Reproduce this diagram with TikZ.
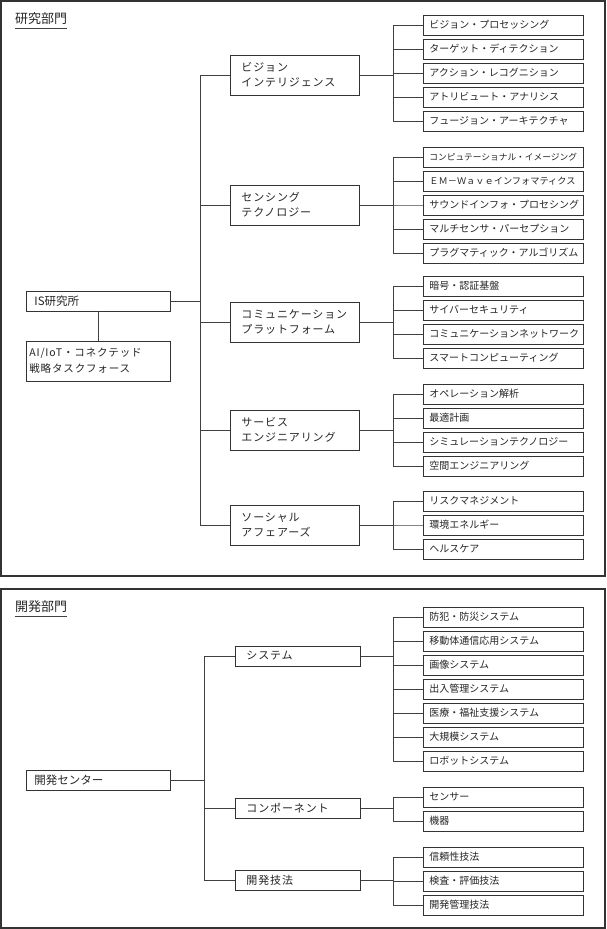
\documentclass[tikz,border=0pt]{standalone}
\usepackage{fontspec}
\setmainfont{Noto Sans CJK JP}
\newfontfamily\unitfont[LetterSpace=8]{Noto Sans CJK JP}
\usetikzlibrary{positioning, shadows}

\tikzset{
  frame/.style={draw=black!80, line width=1.2pt},
  link/.style={draw=black!75, line width=0.9pt},
  boxed/.style={draw=black!80, line width=0.8pt, fill=white, anchor=west,
    align=left, inner ysep=0pt, text=black!85,
    drop shadow={shadow xshift=0.8pt, shadow yshift=-0.8pt, fill=black!75, opacity=1}},
  leaf/.style={boxed, text width=148pt, inner xsep=6pt, minimum height=20pt,
    font=\fontsize{10}{12}\selectfont},
  unit/.style={boxed, text width=107pt, inner xsep=11pt, minimum height=40pt,
    font=\unitfont\fontsize{11}{15}\selectfont},
  base/.style={boxed, text width=128pt, inner xsep=8pt, minimum height=20pt,
    font=\fontsize{11.5}{16}\selectfont},
  heading/.style={anchor=west, inner sep=0pt, text=black!85,
    font=\fontsize{13}{15}\selectfont},
}

\begin{document}
\begin{tikzpicture}[x=1pt, y=-1pt]
\useasboundingbox (0,0) rectangle (607,929);
\draw[frame] (1,1) rectangle (605,576);
\draw[frame] (1,589) rectangle (605,928);

% research division
\node[heading] (rtitle) at (15,19) {研究部門};
\draw[link] ([yshift=-3pt]rtitle.south west) -- ([yshift=-3pt]rtitle.south east);

\node[base] (is) at (26,301) {IS研究所};
\node[base, text width=138pt, inner xsep=3pt, minimum height=40pt,
  font=\unitfont\fontsize{10.5}{16}\selectfont] (ai) at (26,361)
  {AI/IoT・コネクテッド\\戦略タスクフォース};
\draw[link] (is) -- (ai);

\node[unit] (vis) at (230,75) {ビジョン\\インテリジェンス};
\node[unit] (sen) at (230,205) {センシング\\テクノロジー};
\node[unit] (com) at (230,322) {コミュニケーション\\プラットフォーム};
\node[unit] (ser) at (230,430) {サービス\\エンジニアリング};
\node[unit] (soc) at (230,525) {ソーシャル\\アフェアーズ};
\foreach \u in {vis,sen,com,ser,soc}
  \draw[link] (\u.west) -- ++(-30,0) |- (is.east);

\foreach \lbl [count=\i from 0] in {ビジョン・プロセッシング,ターゲット・ディテクション,
    アクション・レコグニション,アトリビュート・アナリシス,フュージョン・アーキテクチャ}{
  \node[leaf] (vis\i) at (423,25+24*\i) {\lbl};
  \draw[link] (vis\i.west) -- ++(-30,0) |- (vis.east);
}
\foreach \lbl [count=\i from 0] in {{\fontsize{8.7}{10}\selectfont コンピュテーショナル・イメージング},
    {\fontsize{9.2}{11}\selectfont ＥＭ－Ｗａｖｅインフォマティクス},
    サウンドインフォ・プロセシング,マルチセンサ・パーセプション,プラグマティック・アルゴリズム}{
  \node[leaf] (sen\i) at (423,157+24*\i) {\lbl};
  \draw[link] (sen\i.west) -- ++(-30,0) |- (sen.east);
}
\foreach \lbl [count=\i from 0] in {暗号・認証基盤,サイバーセキュリティ,
    コミュニケーションネットワーク,スマートコンピューティング}{
  \node[leaf] (com\i) at (423,286+24*\i) {\lbl};
  \draw[link] (com\i.west) -- ++(-30,0) |- (com.east);
}
\foreach \lbl [count=\i from 0] in {オペレーション解析,最適計画,
    シミュレーションテクノロジー,空間エンジニアリング}{
  \node[leaf] (ser\i) at (423,394+24*\i) {\lbl};
  \draw[link] (ser\i.west) -- ++(-30,0) |- (ser.east);
}
\foreach \lbl [count=\i from 0] in {リスクマネジメント,環境エネルギー,ヘルスケア}{
  \node[leaf] (soc\i) at (423,501+24*\i) {\lbl};
  \draw[link] (soc\i.west) -- ++(-30,0) |- (soc.east);
}

% development division
\node[heading] (dtitle) at (15,607) {開発部門};
\draw[link] ([yshift=-3pt]dtitle.south west) -- ([yshift=-3pt]dtitle.south east);

\node[base] (dc) at (26,780) {開発センター};

\node[unit, text width=103pt, minimum height=20pt] (sys) at (235,656) {システム};
\node[unit, text width=103pt, minimum height=20pt] (cmp) at (235,808) {コンポーネント};
\node[unit, text width=103pt, minimum height=20pt] (tech) at (235,880) {開発技法};
\foreach \u in {sys,cmp,tech}
  \draw[link] (\u.west) -- ++(-31,0) |- (dc.east);

\foreach \lbl [count=\i from 0] in {防犯・防災システム,移動体通信応用システム,画像システム,
    出入管理システム,医療・福祉支援システム,大規模システム,ロボットシステム}{
  \node[leaf] (sys\i) at (423,617+24*\i) {\lbl};
  \draw[link] (sys\i.west) -- ++(-30,0) |- (sys.east);
}
\foreach \lbl [count=\i from 0] in {センサー,機器}{
  \node[leaf] (cmp\i) at (423,797+24*\i) {\lbl};
  \draw[link] (cmp\i.west) -- ++(-30,0) |- (cmp.east);
}
\foreach \lbl [count=\i from 0] in {信頼性技法,検査・評価技法,開発管理技法}{
  \node[leaf] (tech\i) at (423,857+24*\i) {\lbl};
  \draw[link] (tech\i.west) -- ++(-30,0) |- (tech.east);
}
\end{tikzpicture}
\end{document}
